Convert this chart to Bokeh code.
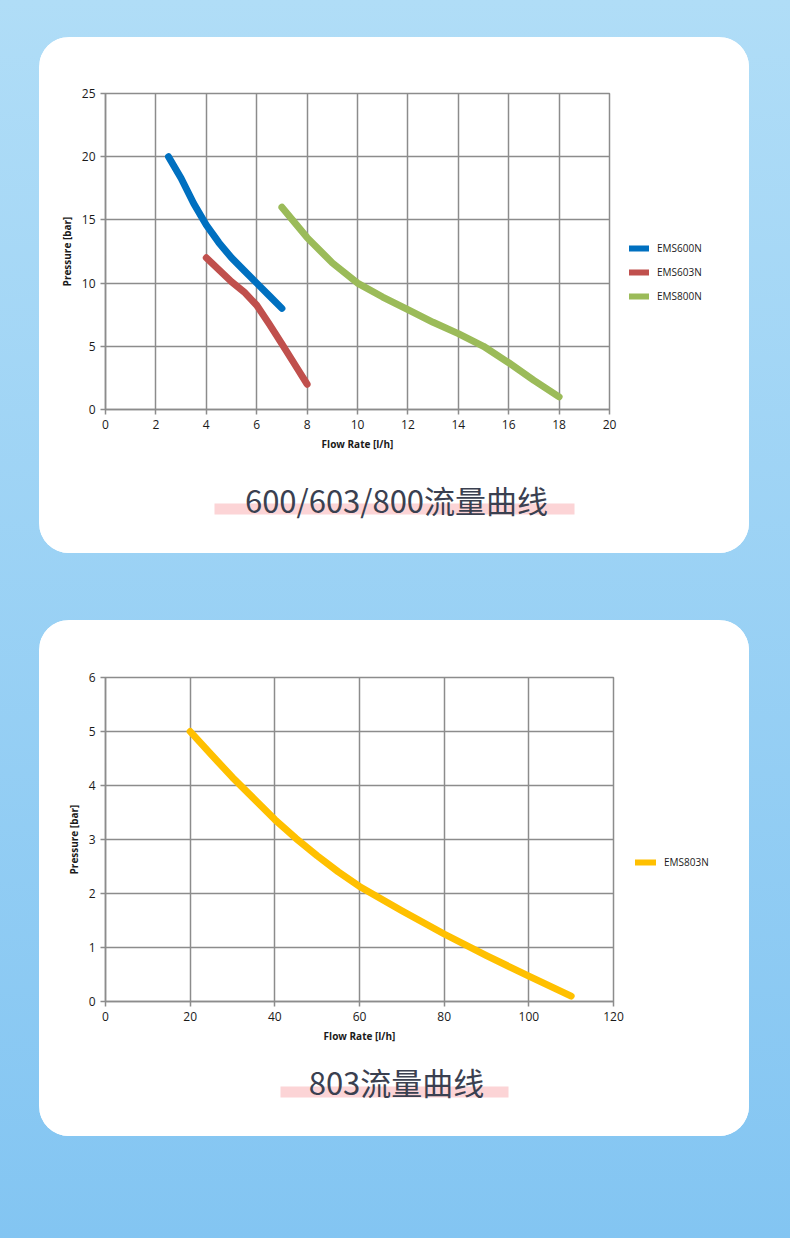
import bokeh.plotting as bkh
from bokeh.core.properties import value
from bokeh.embed import file_html
from bokeh.layouts import column, row
from bokeh.models import Range1d, SingleIntervalTicker, Legend, LegendItem, Spacer
from bokeh.resources import INLINE

# readings of the pump curves, flow rate [l/h] vs pressure [bar]
ems600n_flow = [2.5, 3, 3.5, 4, 4.5, 5, 5.5, 6, 6.5, 7]
ems600n_pressure = [20, 18.3, 16.3, 14.6, 13.2, 12.0, 11.0, 10.0, 9.0, 8.0]
ems603n_flow = [4, 4.5, 5, 5.5, 6, 6.5, 7, 7.5, 8]
ems603n_pressure = [12, 11.05, 10.1, 9.3, 8.25, 6.75, 5.2, 3.6, 2]
ems800n_flow = [7, 8, 9, 10, 11, 12, 13, 14, 15, 16, 17, 18]
ems800n_pressure = [16, 13.6, 11.6, 10, 8.9, 7.9, 6.9, 6, 5, 3.7, 2.3, 1]
ems803n_flow = [20, 25, 30, 35, 40, 45, 50, 55, 60, 70, 80, 90, 100, 110]
ems803n_pressure = [5, 4.57, 4.15, 3.76, 3.37, 3.02, 2.7, 2.4, 2.13, 1.68, 1.25, 0.85, 0.47, 0.1]

series_top = ['EMS600N', 'EMS603N', 'EMS800N']
series_bottom = ['EMS803N']
colors = ['#0070c0', '#c0504d', '#9bbb59', '#ffc000']

title_top = '600/603/800流量曲线'
title_bottom = '803流量曲线'

grid_color = '#8c8c8c'
text_color = '#1a1a1a'
card_width = 710


def chart(width, height, borders, x_end, x_step, y_end, y_step, lines):
	left, top, right, bottom = borders
	fig = bkh.figure(width=width, height=height,
		x_range=Range1d(0, x_end), y_range=Range1d(0, y_end),
		output_backend='svg', toolbar_location=None,
		min_border_left=left, min_border_top=top,
		min_border_right=right, min_border_bottom=bottom)
	fig.border_fill_color = 'white'
	fig.background_fill_color = 'white'
	fig.outline_line_color = grid_color
	fig.outline_line_width = 1.5
	fig.xaxis.ticker = SingleIntervalTicker(interval=x_step)
	fig.yaxis.ticker = SingleIntervalTicker(interval=y_step)
	fig.grid.grid_line_color = grid_color
	fig.grid.grid_line_width = 1.5
	fig.axis.axis_line_color = grid_color
	fig.axis.axis_line_width = 1.5
	fig.axis.major_tick_line_color = grid_color
	fig.axis.major_tick_line_width = 1.5
	fig.axis.major_tick_out = 5
	fig.axis.major_tick_in = 0
	fig.axis.minor_tick_line_color = None
	fig.axis.major_label_text_font = 'Open Sans'
	fig.axis.major_label_text_font_size = '12px'
	fig.axis.major_label_text_color = text_color
	fig.axis.axis_label_text_font = 'Open Sans'
	fig.axis.axis_label_text_font_size = '10px'
	fig.axis.axis_label_text_font_style = 'bold'
	fig.axis.axis_label_text_color = text_color
	fig.axis.axis_label_standoff = 5
	fig.xaxis.axis_label = 'Flow Rate [l/h]'
	fig.yaxis.axis_label = 'Pressure [bar]'
	for name, xs, ys, color in lines:
		fig.line(xs, ys, line_color=color, line_width=7,
			line_cap='round', line_join='round')
	return fig


'''
The legend lives in its own narrow figure next to the chart, since a legend
outside the frame gets clipped and a side panel legend squeezes the frame.
Its renderers are copies of the series, kept out of this figure's view.
'''
def legend_panel(width, height, lines, loc, glyph_w):
	fig = bkh.figure(width=width, height=height,
		x_range=Range1d(0, 1), y_range=Range1d(0, 1),
		x_axis_location=None, y_axis_location=None,
		output_backend='svg', toolbar_location=None, min_border=0)
	fig.grid.visible = False
	fig.outline_line_color = None
	fig.border_fill_color = 'white'
	fig.background_fill_color = 'white'
	items = []
	for name, xs, ys, color in lines:
		r = fig.line(xs, ys, line_color=color, line_width=6,
			line_cap='round', line_join='round')
		items.append(LegendItem(label=name, renderers=[r]))
	legend = Legend(items=items, location=loc,
		border_line_color=None, background_fill_alpha=0,
		label_text_font='Open Sans', label_text_font_size='10px',
		label_text_color=text_color,
		glyph_width=glyph_w, glyph_height=20, label_height=20,
		spacing=4, padding=0, margin=0, label_standoff=8)
	fig.add_layout(legend)
	return fig


# the card's lower part: title with a pink marker stripe under it
def title_panel(height, text, text_x, text_y, bar):
	fig = bkh.figure(width=card_width, height=height,
		x_range=Range1d(0, card_width), y_range=Range1d(height, 0),
		x_axis_location=None, y_axis_location=None,
		output_backend='svg', toolbar_location=None, min_border=0)
	fig.grid.visible = False
	fig.outline_line_color = None
	fig.border_fill_color = 'white'
	fig.background_fill_color = 'white'
	fig.quad(left=[bar[0]], right=[bar[1]], top=[bar[2]], bottom=[bar[3]],
		fill_color='#fcd4d6', line_color=None)
	fig.text(x=[text_x], y=[text_y], text=[text],
		text_font=value('Noto Sans CJK SC'), text_font_size='31px',
		text_color='#3a4050', text_align='center', text_baseline='alphabetic')
	return fig


def card(plot, legend, label):
	box = column(row(plot, legend), label,
		styles={'border-radius': '30px', 'overflow': 'hidden', 'background-color': 'white'})
	h = plot.height + label.height
	return row(Spacer(width=39, height=h), box, Spacer(width=41, height=h))


top_lines = [
	(series_top[0], ems600n_flow, ems600n_pressure, colors[0]),
	(series_top[1], ems603n_flow, ems603n_pressure, colors[1]),
	(series_top[2], ems800n_flow, ems800n_pressure, colors[2]),
]
bottom_lines = [
	(series_bottom[0], ems803n_flow, ems803n_pressure, colors[3]),
]

chart_top = chart(580, 430, (66, 56, 10, 58), 20, 2, 25, 5, top_lines)
legend_top = legend_panel(130, 430, top_lines, (10, 103), 20)
label_top = title_panel(86, title_top, 357, 32, (175, 535, 36, 47))

chart_bottom = chart(586, 440, (66, 57, 12, 59), 120, 20, 6, 1, bottom_lines)
legend_bottom = legend_panel(124, 440, bottom_lines, (10, 129), 21)
label_bottom = title_panel(76, title_bottom, 357, 21, (241, 469, 26, 37))

p = column(
	Spacer(width=790, height=37),
	card(chart_top, legend_top, label_top),
	Spacer(width=790, height=67),
	card(chart_bottom, legend_bottom, label_bottom),
	Spacer(width=790, height=102),
	styles={'background': 'linear-gradient(180deg, #b0ddf7 0%, #83c5f2 100%)'})

open("out.html", "w").write(file_html(p, INLINE))
